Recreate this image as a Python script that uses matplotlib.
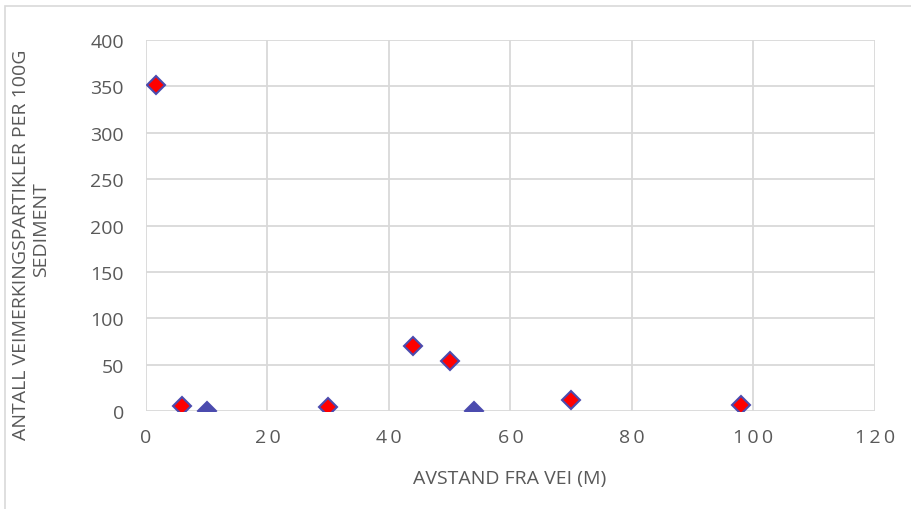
import matplotlib.pyplot as plt
from matplotlib.patches import Rectangle

# distance from road (m) and particle count per 100 g sediment
dist = [1.6, 6, 10, 30, 44, 50, 54, 70, 98]
count = [351, 5, 0, 4, 70, 54, 0, 12, 7]

xticks = [0, 20, 40, 60, 80, 100, 120]
yticks = [0, 50, 100, 150, 200, 250, 300, 350, 400]

blue = '#4B4BAE'
grey = '#595959'

plt.rcParams['font.family'] = ['Open Sans', 'DejaVu Sans']

fig = plt.figure(figsize=(9.12, 5.10), dpi=100)
fig.patches.append(Rectangle((5 / 912, -0.1), 1.2, 1 - 7 / 510 + 0.1,
                             transform=fig.transFigure, fill=False,
                             edgecolor='#d9d9d9', lw=1.2))
ax = fig.add_axes([146 / 912, 1 - 412 / 510, (875 - 146) / 912, (412 - 41) / 510])

for x, y in zip(dist, count):
    face = 'red' if y > 0 else blue
    ax.plot(x, y, 'D', ms=9.5, mfc=face, mec=blue, mew=1.5, zorder=3)

ax.set_xlim(0, 120)
ax.set_ylim(0, 400)
ax.set_xticks(xticks)
ax.set_yticks(yticks)
ax.set_xticklabels(['\u2009'.join(str(t)) for t in xticks])
ax.grid(True, color='#d9d9d9', lw=1.3)
ax.set_axisbelow(True)
for s in ax.spines.values():
    s.set_visible(False)
ax.tick_params(length=0, colors=grey, labelsize=14)
ax.tick_params(axis='x', pad=12)
ax.tick_params(axis='y', pad=16)

fig.text(510 / 912, 1 - 479 / 510, 'AVSTAND FRA VEI (M)', color=grey,
         fontsize=14, ha='center', va='center')
fig.text(21 / 912, 1 - 245 / 510, 'ANTALL VEIMERKINGSPARTIKLER PER 100G',
         color=grey, fontsize=14, ha='center', va='center', rotation=90)
fig.text(41 / 912, 1 - 230 / 510, 'SEDIMENT',
         color=grey, fontsize=14, ha='center', va='center', rotation=90)

fig.savefig('out.png', dpi=100)
